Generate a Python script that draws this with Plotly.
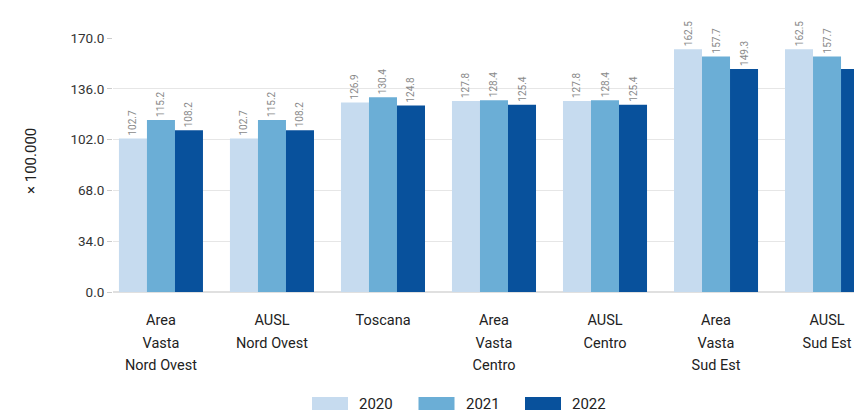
import plotly.graph_objects as go

# categories (tick labels) and values per year
categories = [
    ["Area", "Vasta", "Nord Ovest"],
    ["AUSL", "Nord Ovest"],
    ["Toscana"],
    ["Area", "Vasta", "Centro"],
    ["AUSL", "Centro"],
    ["Area", "Vasta", "Sud Est"],
    ["AUSL", "Sud Est"],
]
years = ["2020", "2021", "2022"]
values_2020 = [102.7, 102.7, 126.9, 127.8, 127.8, 162.5, 162.5]
values_2021 = [115.2, 115.2, 130.4, 128.4, 128.4, 157.7, 157.7]
values_2022 = [108.2, 108.2, 124.8, 125.4, 125.4, 149.3, 149.3]
y_ticks = [0, 34, 68, 102, 136, 170]

colors = ["#c6dbef", "#6baed6", "#08519c"]
series = [values_2020, values_2021, values_2022]
FONT = "Roboto"

# wider line spacing: the label element is big, each line is drawn smaller
tick_text = ["<br>".join(f'<span style="font-size:14.5px">{w}</span>' for w in lines)
             for lines in categories]

fig = go.Figure()
for name, vals, col in zip(years, series, colors):
    fig.add_trace(go.Bar(
        x=list(range(len(categories))),
        y=vals,
        name=name,
        marker=dict(color=col, line=dict(width=0)),
        text=[f"{v:.1f}" for v in vals],
        textposition="outside",
        textangle=-90,
        constraintext="none",
        cliponaxis=False,
        textfont=dict(family=FONT, size=10, color="#8a8a8a"),
        showlegend=False,
        hoverinfo="skip",
    ))

# plot area in window pixels; the last group runs off the right edge like the original
plot_left, plot_w, plot_top, plot_h = 113, 854 - 113, 38, 254
def px_x(p):
    return (p - plot_left) / plot_w
def px_y(p):
    return (plot_top + plot_h - p) / plot_h

# legend drawn by hand so the swatches are wide rectangles like the original
shapes = []
annotations = []
start, step = 312, 106.5
for i, (name, col) in enumerate(zip(years, colors)):
    x0 = start + i * step
    shapes.append(dict(type="rect", xref="paper", yref="paper",
                       x0=px_x(x0), x1=px_x(x0 + 36),
                       y0=px_y(410), y1=px_y(397),
                       fillcolor=col, line=dict(width=0)))
    annotations.append(dict(xref="paper", yref="paper", x=px_x(x0 + 45), y=px_y(404),
                            text=name, showarrow=False, xanchor="left", yanchor="middle",
                            font=dict(family=FONT, size=15, color="#222")))

annotations.append(dict(xref="paper", yref="paper", x=px_x(31), y=px_y(161),
                        text="× 100.000", textangle=-90, showarrow=False,
                        xanchor="center", yanchor="middle",
                        font=dict(family=FONT, size=15, color="#222")))

fig.update_layout(
    width=854,
    height=413,
    margin=dict(l=plot_left, r=0, t=plot_top, b=413 - (plot_top + plot_h)),
    paper_bgcolor="white",
    plot_bgcolor="white",
    barmode="group",
    bargap=0.243,
    bargroupgap=0,
    font=dict(family=FONT, color="#222"),
    shapes=shapes,
    annotations=annotations,
    xaxis=dict(
        tickmode="array",
        tickvals=list(range(len(categories))),
        ticktext=tick_text,
        range=[-0.432, 6.243],
        showgrid=False,
        zeroline=False,
        showline=False,
        ticks="",
        automargin=False,
        ticklabelstandoff=15,
        tickfont=dict(family=FONT, size=17.3, color="#222"),
    ),
    yaxis=dict(
        range=[0, 170],
        tickmode="array",
        tickvals=y_ticks,
        tickformat=".1f",
        showgrid=True,
        gridcolor="#e6e6e6",
        zeroline=True,
        zerolinecolor="#e0e0e0",
        showline=False,
        ticks="outside",
        ticklen=5,
        tickcolor="#cccccc",
        automargin=False,
        tickfont=dict(family=FONT, size=13.5, color="#333"),
    ),
)

# drop the default page margin so the figure sits at the window's corner
fig.write_html("out.html",
               config={"displayModeBar": False},
               post_script="document.body.style.margin='0';"
                           "document.documentElement.style.overflow='hidden';")
